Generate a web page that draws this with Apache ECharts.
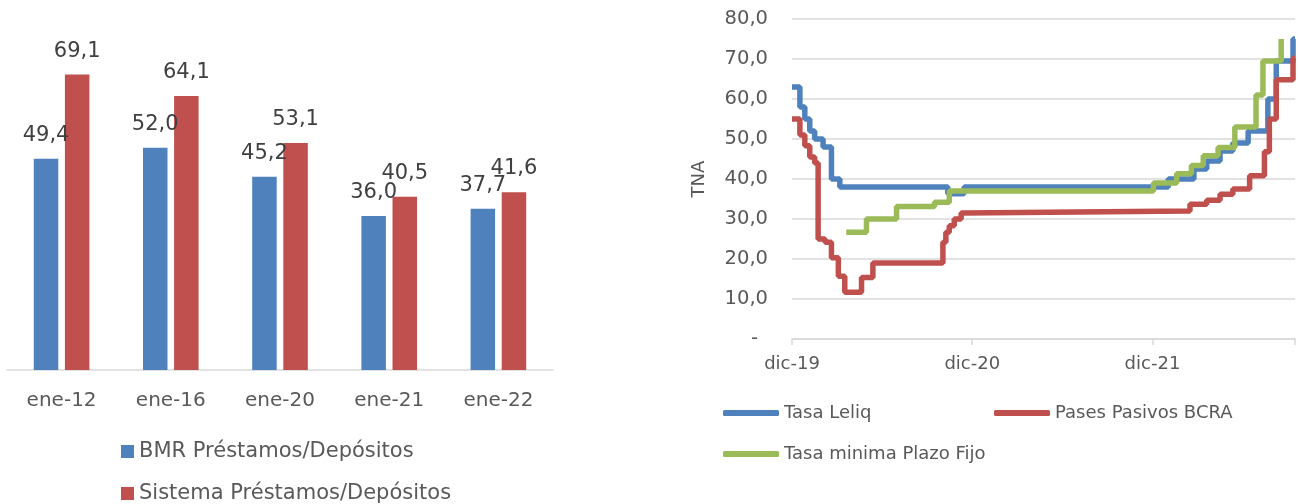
<!DOCTYPE html>
<html>
<head>
<meta charset="utf-8">
<script src="https://cdn.jsdelivr.net/npm/echarts@6/dist/echarts.min.js"></script>
<style>
  html, body { margin: 0; padding: 0; background: #fff; }
  #main { width: 1298px; height: 504px; }
</style>
</head>
<body>
<div id="main"></div>
<script>
// grafico izquierdo: prestamos / depositos
const barCategories = ['ene-12', 'ene-16', 'ene-20', 'ene-21', 'ene-22']
const bmrRatio = [49.4, 52.0, 45.2, 36.0, 37.7]
const sistemaRatio = [69.1, 64.1, 53.1, 40.5, 41.6]

// grafico derecho: tasas (TNA), cada punto = [fecha del cambio, nueva tasa]
const xTickLabels = ['dic-19', 'dic-20', 'dic-21']
const tasaLeliq = [
  ['2019-12-01', 63], ['2019-12-17', 58], ['2019-12-27', 55], ['2020-01-06', 52],
  ['2020-01-16', 50], ['2020-02-02', 48], ['2020-02-19', 40], ['2020-03-07', 38],
  ['2020-10-12', 36.3], ['2020-11-14', 38], ['2022-01-02', 40], ['2022-02-23', 42.5],
  ['2022-03-21', 44.5], ['2022-04-17', 47], ['2022-05-13', 49], ['2022-06-13', 52],
  ['2022-07-23', 60], ['2022-08-09', 69.5], ['2022-09-12', 75], ['2022-09-16', 75]
]
const pasesPasivos = [
  ['2019-12-01', 55], ['2019-12-17', 51], ['2019-12-27', 48.3], ['2020-01-06', 45.5],
  ['2020-01-16', 44], ['2020-01-23', 25], ['2020-02-06', 24.2], ['2020-02-19', 20.3],
  ['2020-03-04', 15.7], ['2020-03-17', 11.7], ['2020-04-20', 15.4], ['2020-05-13', 19],
  ['2020-10-02', 24.2], ['2020-10-08', 26.7], ['2020-10-15', 28.3], ['2020-10-25', 30],
  ['2020-11-08', 31.5], ['2020-11-14', 32], ['2022-02-15', 33.7], ['2022-03-21', 34.7],
  ['2022-04-17', 36.2], ['2022-05-13', 37.5], ['2022-06-16', 40.8], ['2022-07-16', 46.8],
  ['2022-07-26', 55], ['2022-08-09', 64.8], ['2022-09-12', 70.2], ['2022-09-16', 70.2]
]
const tasaMinimaPF = [
  ['2020-03-20', 26.7], ['2020-04-30', 30], ['2020-06-30', 33.1], ['2020-09-15', 34.2],
  ['2020-10-15', 37], ['2021-12-03', 39], ['2022-01-19', 41.3], ['2022-02-18', 43.4],
  ['2022-03-14', 45.8], ['2022-04-13', 47.9], ['2022-05-17', 53], ['2022-06-29', 61],
  ['2022-07-13', 69.5], ['2022-08-19', 75]
]

const FONT = 'DejaVu Sans'
const startDate = Date.UTC(2019, 11, 1)
const YEAR = 365.5

function toDays(list) {
  return list.map(p => [Math.round((Date.parse(p[0]) - startDate) / 864e5), p[1]])
}

function coma(v) {
  return v.toFixed(1).replace('.', ',')
}

var myChart = echarts.init(document.getElementById('main'))

function barLegend(name, top) {
  return {
    data: [name],
    left: 116,
    top: top,
    icon: 'rect',
    itemWidth: 13,
    itemHeight: 13,
    textStyle: { fontFamily: FONT, fontSize: 21, color: '#595959' }
  }
}

function lineLegend(name, left, top) {
  return {
    data: [name],
    left: left,
    top: top,
    icon: 'roundRect',
    itemWidth: 56,
    itemHeight: 6,
    textStyle: { fontFamily: FONT, fontSize: 18, color: '#595959' }
  }
}

function stepLine(name, data, color, idx) {
  return {
    name: name,
    type: 'line',
    step: 'end',
    xAxisIndex: 1,
    yAxisIndex: 1,
    showSymbol: false,
    data: toDays(data),
    itemStyle: { color: color },
    lineStyle: { color: color, width: 5.5 },
    z: 2 + idx
  }
}

function barLabel() {
  return {
    show: true, position: 'top', distance: 13,
    fontFamily: FONT, fontSize: 21, color: '#404040',
    formatter: p => coma(p.value)
  }
}

var option = {
  animation: false,
  legend: [
    barLegend('BMR Préstamos/Depósitos', 436),
    barLegend('Sistema Préstamos/Depósitos', 478),
    lineLegend('Tasa Leliq', 718, 399),
    lineLegend('Pases Pasivos BCRA', 989, 399),
    lineLegend('Tasa minima Plazo Fijo', 718, 440)
  ],
  grid: [
    { left: 7, right: 745, top: 28, bottom: 134 },
    { left: 792, right: 1, top: 19, bottom: 165 }
  ],
  xAxis: [
    {
      type: 'category',
      gridIndex: 0,
      data: barCategories,
      axisLine: { lineStyle: { color: '#d9d9d9', width: 1.5 } },
      axisTick: { show: false },
      axisLabel: { fontFamily: FONT, fontSize: 20, color: '#595959', margin: 21 }
    },
    {
      type: 'value',
      gridIndex: 1,
      min: 0,
      max: 1020,
      interval: YEAR,
      axisLine: { lineStyle: { color: '#d9d9d9', width: 1.5 } },
      axisTick: { show: true, length: 6, lineStyle: { color: '#d9d9d9', width: 1.5 } },
      splitLine: { show: false },
      axisLabel: {
        fontFamily: FONT, fontSize: 18, color: '#595959', margin: 16,
        formatter: v => xTickLabels[Math.round(v / YEAR)] || ''
      }
    }
  ],
  yAxis: [
    {
      type: 'value',
      gridIndex: 0,
      min: 0,
      max: 80,
      show: false
    },
    {
      type: 'value',
      gridIndex: 1,
      min: 0,
      max: 80,
      interval: 10,
      name: 'TNA',
      nameLocation: 'middle',
      nameGap: 84,
      nameRotate: 90,
      nameTextStyle: { fontFamily: FONT, fontSize: 18, color: '#595959' },
      axisLine: { show: false },
      axisTick: { show: false },
      splitLine: { lineStyle: { color: '#d9d9d9', width: 1.5 } },
      axisLabel: {
        fontFamily: FONT, fontSize: 19.5, color: '#595959', margin: 24,
        formatter: v => v === 0 ? '{z|-}' : coma(v),
        rich: { z: { fontFamily: FONT, fontSize: 19.5, color: '#595959', padding: [0, 10, 0, 0] } }
      }
    }
  ],
  series: [
    {
      name: 'BMR Préstamos/Depósitos',
      type: 'bar',
      xAxisIndex: 0,
      yAxisIndex: 0,
      data: bmrRatio,
      barWidth: 24.5,
      barGap: '27%',
      itemStyle: { color: '#4F81BD' },
      label: barLabel()
    },
    {
      name: 'Sistema Préstamos/Depósitos',
      type: 'bar',
      xAxisIndex: 0,
      yAxisIndex: 0,
      data: sistemaRatio,
      barWidth: 24.5,
      barGap: '27%',
      itemStyle: { color: '#C0504D' },
      label: barLabel()
    },
    stepLine('Tasa Leliq', tasaLeliq, '#4F81BD', 0),
    stepLine('Pases Pasivos BCRA', pasesPasivos, '#C0504D', 1),
    stepLine('Tasa minima Plazo Fijo', tasaMinimaPF, '#9BBB59', 2)
  ]
}

myChart.setOption(option)
</script>
</body>
</html>
